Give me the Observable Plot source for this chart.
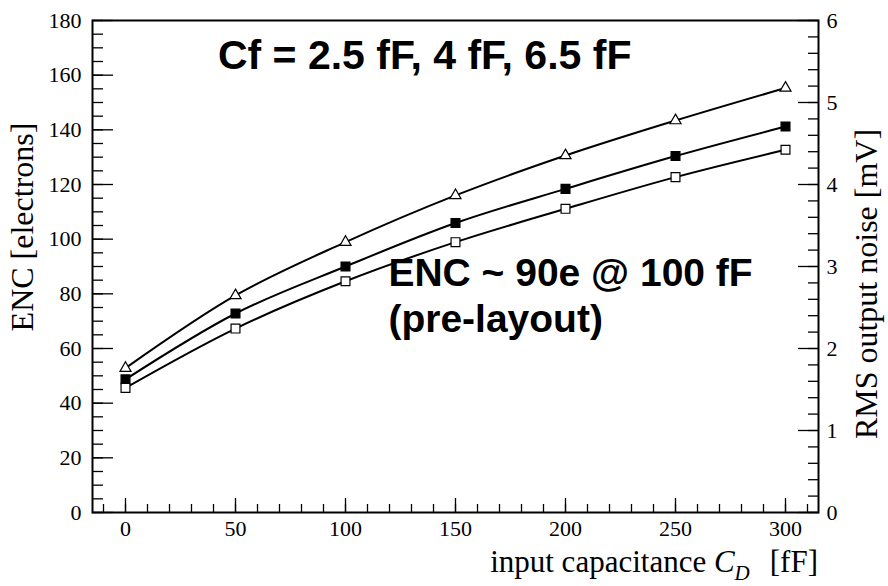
<!DOCTYPE html>
<html>
<head>
<meta charset="utf-8">
<script src="https://cdn.jsdelivr.net/npm/d3@7"></script>
<script src="https://cdn.jsdelivr.net/npm/@observablehq/plot@0.6"></script>
<style>
  body { margin: 0; background: #fff; }
</style>
</head>
<body>
<div id="chart"></div>
<script>
// Input capacitance sweep [fF]
const capacitance = [0, 50, 100, 150, 200, 250, 300];
// ENC [electrons] for each feedback capacitance
const encCf25 = [52.8, 79.4, 98.9, 116.0, 130.6, 143.4, 155.3];
const encCf4  = [48.7, 72.8, 90.0, 105.9, 118.4, 130.4, 141.2];
const encCf65 = [45.6, 67.3, 84.6, 98.9, 111.1, 122.7, 132.7];
const seriesNames = ["2.5 fF", "4 fF", "6.5 fF"];
const seriesSymbols = ["triangle", "square", "square"];
const seriesFills = ["white", "black", "white"];

// Right axis: RMS output noise [mV]; 1 mV corresponds to 30 electrons
const electronsPerMv = 30;
const mvTicks = [0, 1, 2, 3, 4, 5, 6];

const encTicks = d3.range(0, 181, 20);
const encMinor = d3.range(0, 181, 5);
const mvMinor = d3.range(0, 6.01, 0.2).map(v => v * electronsPerMv);
const capTicks = d3.range(0, 301, 50);
const capMinor = d3.range(-10, 311, 10);

const serif = "'Liberation Serif', 'Times New Roman', serif";
const sans = "'Liberation Sans', Arial, sans-serif";

const series = [encCf25, encCf4, encCf65];
const rows = series.flatMap((vals, s) =>
  capacitance.map((c, i) => ({cap: c, enc: vals[i], cf: seriesNames[s], s}))
);
const triRows = rows.filter(d => seriesSymbols[d.s] === "triangle");
const sqRows = rows.filter(d => seriesSymbols[d.s] === "square");

// rotated y-axis title, placed relative to the frame
function yTitle(label, side, offset, shift) {
  return (index, scales, values, dims) => {
    const cx = side === "left" ? dims.marginLeft - offset : dims.width - dims.marginRight + offset;
    const cy = (dims.marginTop + dims.height - dims.marginBottom) / 2 + shift;
    return d3.create("svg:text")
      .attr("transform", `translate(${cx},${cy}) rotate(-90)`)
      .attr("text-anchor", "middle")
      .attr("dy", "0.35em")
      .attr("font-family", serif)
      .attr("font-size", 32)
      .attr("fill", "black")
      .text(label)
      .node();
  };
}

// x-axis title with italic subscripted C_D
function xTitle(index, scales, values, dims) {
  const t = d3.create("svg:text")
    .attr("x", dims.width - dims.marginRight)
    .attr("y", dims.height - 14)
    .attr("text-anchor", "end")
    .attr("font-family", serif)
    .attr("font-size", 31)
    .attr("fill", "black");
  t.append("tspan").text("input capacitance ");
  t.append("tspan").attr("font-style", "italic").text("C");
  t.append("tspan").attr("font-style", "italic").attr("font-size", 21).attr("dy", 8).text("D");
  t.append("tspan").attr("dy", -8).attr("dx", 20).text("[fF]");
  return t.node();
}

const chart = Plot.plot({
  width: 888,
  height: 586,
  marginTop: 20,
  marginRight: 70,
  marginBottom: 74,
  marginLeft: 92,
  style: {fontFamily: serif, fontSize: "22px", color: "black", background: "white"},
  x: {domain: [-15, 315]},
  y: {domain: [0, 180]},
  marks: [
    // inward ticks
    Plot.axisY(encMinor, {anchor: "left", tickSize: -11, fill: "none", strokeWidth: 1.3}),
    Plot.axisY(encTicks, {anchor: "left", tickSize: -21, fill: "none", strokeWidth: 1.3}),
    Plot.axisY(mvMinor, {anchor: "right", tickSize: -11, fill: "none", strokeWidth: 1.3}),
    Plot.axisY(mvTicks.map(v => v * electronsPerMv), {anchor: "right", tickSize: -21, fill: "none", strokeWidth: 1.3}),
    Plot.axisX(capMinor, {anchor: "bottom", tickSize: -8, fill: "none", strokeWidth: 1.3}),
    Plot.axisX(capTicks, {anchor: "bottom", tickSize: -14, fill: "none", strokeWidth: 1.3}),
    // tick labels
    Plot.axisY(encTicks, {anchor: "left", tickSize: 0, tickPadding: 11, label: null}),
    Plot.axisY(mvTicks.map(v => v * electronsPerMv), {anchor: "right", tickSize: 0, tickPadding: 8, label: null,
      tickFormat: d => d3.format("d")(d / electronsPerMv)}),
    Plot.axisX(capTicks, {anchor: "bottom", tickSize: 0, tickPadding: 8, label: null}),
    Plot.frame({stroke: "black", strokeWidth: 2}),
    // curves and markers
    Plot.line(rows, {x: "cap", y: "enc", z: "cf", curve: "monotone-x", stroke: "black", strokeWidth: 2}),
    Plot.dot(triRows, {x: "cap", y: "enc", symbol: "triangle", fill: d => seriesFills[d.s],
      stroke: "black", strokeWidth: 1.2, r: 4.1}),
    Plot.dot(sqRows, {x: "cap", y: "enc", symbol: "square", fill: d => seriesFills[d.s],
      stroke: "black", strokeWidth: 1.2, r: 5}),
    // axis titles
    yTitle("ENC [electrons]", "left", 70, -39),
    yTitle("RMS output noise [mV]", "right", 48, 18),
    xTitle,
    // annotations
    Plot.text(["Cf = " + seriesNames.join(", ")], {text: d => d, x: 42, y: 167, textAnchor: "start",
      fontFamily: sans, fontWeight: "bold", fontSize: 41, fill: "black"}),
    Plot.text(["ENC ~ 90e @ 100 fF", "(pre-layout)"], {text: d => d, x: 119.5, y: (d, i) => [87.5, 70.5][i],
      textAnchor: "start", fontFamily: sans, fontWeight: "bold", fontSize: 39, fill: "black"})
  ]
});

document.getElementById("chart").appendChild(chart);
</script>
</body>
</html>
